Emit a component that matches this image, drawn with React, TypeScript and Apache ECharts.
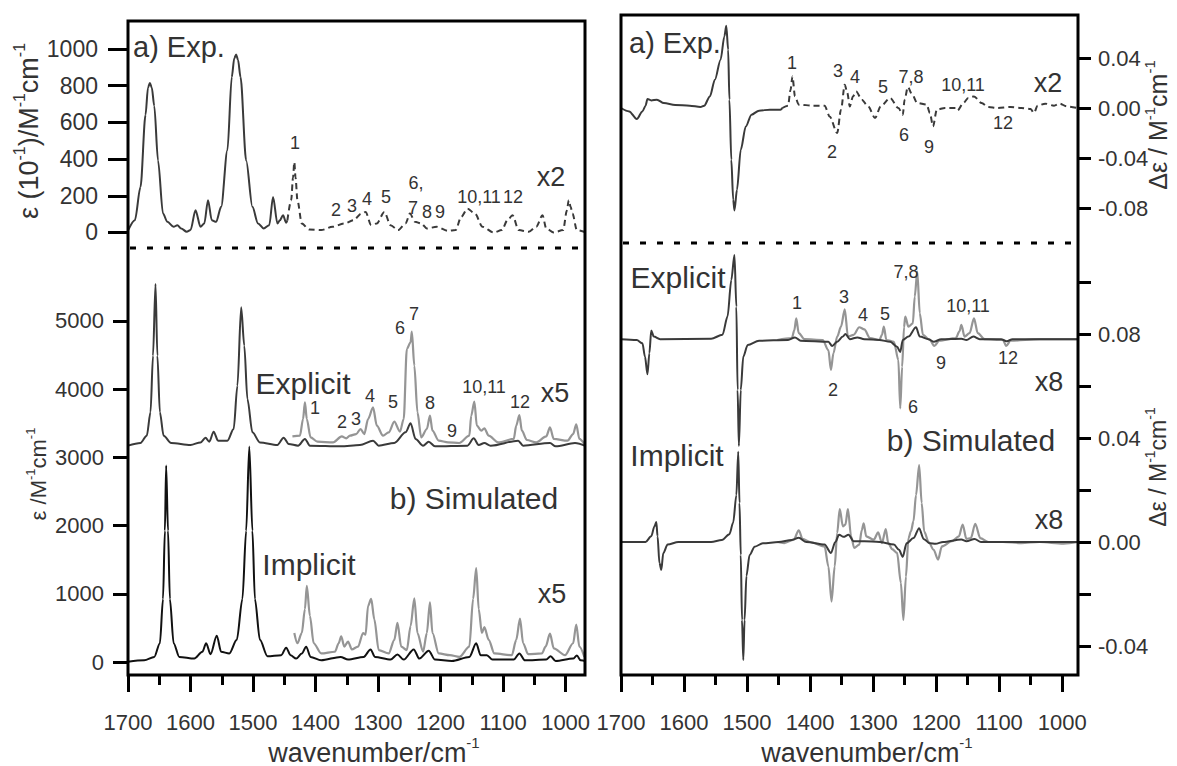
import React, { useEffect, useRef } from "react";
import * as echarts from "echarts";

// ---------- tick values ----------
const xMajorTicks = [1700, 1600, 1500, 1400, 1300, 1200, 1100, 1000];
const xMinorTicks = [1650, 1550, 1450, 1350, 1250, 1150, 1050];
const absExpTicks = [0, 200, 400, 600, 800, 1000];
const absSimTicks = [0, 1000, 2000, 3000, 4000, 5000];
const cdExpTicks = [-0.08, -0.04, 0, 0.04];
const cdSimTicks = [-0.04, -0.02, 0, 0.02, 0.04, 0.06, 0.08, 0.1];
const cdSimLabels = [-0.04, 0, 0.04, 0.08];

// ---------- a) Exp. absorption (left top) ----------
const expAbsSolid = [
  [1700, 10], [1689, 67], [1680, 248], [1672, 640], [1668, 790], [1665, 815], [1662, 790], [1658, 690],
  [1652, 393], [1644, 103], [1637, 58], [1627, 31], [1621, 40], [1615, 22], [1606, 4], [1600, 13],
  [1592, 121], [1584, 31], [1578, 49], [1572, 176], [1566, 67], [1559, 58], [1551, 140], [1541, 448],
  [1534, 847], [1530, 950], [1527, 970], [1524, 940], [1520, 847], [1511, 393], [1501, 140], [1492, 49],
  [1483, 22], [1474, 40], [1468, 194], [1461, 49], [1457, 67], [1452, 94], [1447, 53], [1445, 67],
];
const expAbsX2 = [
  [1445, 67], [1439, 176], [1436, 300], [1434, 384], [1432, 300], [1429, 176], [1422, 49], [1410, 16],
  [1391, 13], [1373, 31], [1354, 49], [1339, 67], [1327, 103], [1320, 112], [1311, 40], [1302, 49],
  [1290, 112], [1280, 40], [1268, 13], [1256, 49], [1249, 103], [1241, 58], [1231, 49], [1222, 22],
  [1206, 31], [1188, 9], [1176, 13], [1167, 85], [1157, 130], [1145, 103], [1133, 31], [1115, 0],
  [1102, 13], [1093, 67], [1085, 94], [1075, 13], [1059, 4], [1047, 31], [1037, 94], [1031, 22],
  [1019, 0], [1004, 13], [998, 120], [995, 176], [992, 140], [989, 103], [982, 13], [967, 0],
];

// ---------- b) Simulated absorption (left bottom) ----------
const explicitAbs = [
  [1700, 3172], [1680, 3211], [1670, 3318], [1664, 3660], [1660, 4491], [1656, 5543], [1653, 4491],
  [1649, 3660], [1643, 3318], [1631, 3211], [1600, 3182], [1584, 3220], [1576, 3289], [1570, 3230],
  [1563, 3377], [1556, 3245], [1541, 3245], [1531, 3416], [1525, 4051], [1519, 5200], [1514, 4638],
  [1509, 3856], [1501, 3367], [1489, 3220], [1461, 3182], [1451, 3289], [1443, 3196], [1428, 3172],
  [1417, 3270], [1409, 3172], [1360, 3162], [1329, 3182], [1308, 3245], [1299, 3172], [1274, 3211],
  [1256, 3367], [1248, 3499], [1240, 3270], [1228, 3172], [1219, 3230], [1209, 3162], [1157, 3172],
  [1147, 3279], [1139, 3182], [1130, 3211], [1120, 3172], [1076, 3245], [1068, 3172], [1025, 3211],
  [1016, 3162], [985, 3211], [967, 3162],
];
const explicitAbsX5 = [
  [1437, 3308], [1425, 3318], [1420, 3562], [1417, 3807], [1414, 3562], [1408, 3294], [1397, 3230],
  [1372, 3220], [1358, 3308], [1351, 3279], [1345, 3318], [1335, 3342], [1328, 3416], [1322, 3342],
  [1316, 3562], [1308, 3734], [1302, 3465], [1292, 3318], [1283, 3367], [1274, 3523], [1265, 3377],
  [1259, 3562], [1254, 4589], [1248, 4687], [1246, 4843], [1242, 4345], [1237, 3660], [1231, 3294],
  [1222, 3416], [1217, 3611], [1213, 3392], [1203, 3245], [1188, 3220], [1170, 3211], [1154, 3318],
  [1151, 3611], [1146, 3817], [1142, 3465], [1135, 3392], [1130, 3426], [1123, 3318], [1108, 3220],
  [1083, 3270], [1079, 3465], [1074, 3621], [1070, 3392], [1062, 3255], [1047, 3220], [1031, 3308],
  [1025, 3440], [1019, 3270], [997, 3245], [988, 3342], [983, 3484], [978, 3270], [970, 3196],
];
const implicitAbs = [
  [1700, 5], [1674, 25], [1658, 75], [1649, 275], [1644, 925], [1641, 1925], [1639, 2880], [1636, 1925],
  [1633, 925], [1627, 275], [1618, 75], [1594, 50], [1581, 150], [1575, 275], [1568, 115], [1558, 385],
  [1551, 150], [1538, 125], [1526, 325], [1517, 925], [1511, 1925], [1506, 3160], [1501, 1925],
  [1497, 925], [1489, 325], [1477, 85], [1455, 100], [1447, 210], [1440, 100], [1431, 50], [1422, 125],
  [1415, 225], [1408, 75], [1391, 25], [1360, 75], [1348, 35], [1323, 75], [1312, 185], [1305, 75],
  [1280, 35], [1269, 110], [1259, 35], [1243, 185], [1234, 50], [1219, 165], [1209, 35], [1182, 15],
  [1154, 75], [1143, 275], [1136, 100], [1126, 100], [1117, 35], [1083, 35], [1074, 125], [1065, 25],
  [1031, 35], [1024, 85], [1016, 15], [988, 50], [982, 95], [976, 25], [967, 10],
];
const implicitAbsX5 = [
  [1434, 425], [1429, 275], [1422, 425], [1417, 775], [1414, 1115], [1409, 675], [1403, 275],
  [1391, 125], [1369, 150], [1363, 275], [1359, 375], [1354, 225], [1348, 300], [1342, 185],
  [1332, 225], [1324, 425], [1320, 400], [1316, 825], [1311, 925], [1306, 625], [1299, 175],
  [1283, 125], [1274, 325], [1269, 575], [1263, 225], [1254, 175], [1248, 525], [1242, 935],
  [1237, 425], [1228, 150], [1222, 425], [1217, 875], [1213, 425], [1203, 125], [1185, 100],
  [1170, 75], [1154, 225], [1148, 925], [1143, 1375], [1139, 775], [1134, 425], [1130, 510],
  [1123, 325], [1114, 125], [1086, 100], [1079, 325], [1073, 635], [1068, 275], [1060, 115],
  [1038, 125], [1032, 225], [1025, 415], [1019, 200], [1001, 100], [988, 275], [983, 550],
  [978, 225], [970, 75],
];

// ---------- a) Exp. VCD (right top) ----------
const expCdSolid = [
  [1700, 0], [1687, -0.0027], [1675, -0.0088], [1666, -0.0027], [1661, 0.0019], [1658, 0.0072],
  [1652, 0.0061], [1643, 0.0067], [1632, 0.004], [1614, 0.0024], [1591, 0.0019], [1574, 0.0008],
  [1568, 0.0019], [1559, 0.0093], [1551, 0.0227], [1542, 0.0387], [1536, 0.0573], [1533, 0.0659],
  [1530, 0.0467], [1528, 0.0067], [1525, -0.0413], [1522, -0.0733], [1520, -0.0819], [1516, -0.0653],
  [1510, -0.0333], [1502, -0.0147], [1493, -0.0053], [1481, -0.0021], [1464, -0.0013], [1447, -0.0013],
  [1444, 0],
];
const expCdX2 = [
  [1444, 0], [1435, 0.0019], [1431, 0.0147], [1428, 0.0253], [1424, 0.0093], [1418, 0.0027],
  [1395, 0.0019], [1377, 0.0019], [1369, -0.0067], [1357, -0.02], [1351, -0.0013], [1345, 0.0187],
  [1341, 0.012], [1337, 0.0013], [1332, 0.0093], [1327, 0.0133], [1318, 0.0067], [1308, 0.0013],
  [1297, -0.008], [1288, 0.0013], [1273, 0.008], [1260, 0], [1253, -0.0053], [1250, 0.0067],
  [1245, 0.0168], [1238, 0.0107], [1230, 0.004], [1215, 0.0027], [1210, -0.004], [1205, -0.0147],
  [1199, -0.0013], [1186, 0], [1169, 0], [1166, -0.0019], [1157, 0.004], [1149, 0.008], [1140, 0.0093],
  [1128, 0.004], [1117, 0.0008], [1103, 0], [1082, 0.0008], [1065, 0], [1050, -0.0008], [1045, -0.004],
  [1039, 0.0019], [1027, 0.0035], [1013, 0.0019], [1004, 0.0035], [993, 0.0013], [975, 0],
];

// ---------- b) Simulated VCD (right bottom) ----------
const explicitCd = [
  [1700, 0.078], [1675, 0.0777], [1666, 0.0764], [1662, 0.0713], [1658, 0.0645], [1655, 0.0726],
  [1652, 0.0813], [1648, 0.079], [1638, 0.078], [1557, 0.0782], [1539, 0.0797], [1531, 0.0867],
  [1525, 0.1008], [1520, 0.1104], [1517, 0.0905], [1515, 0.0585], [1513, 0.0369], [1510, 0.0585],
  [1506, 0.0713], [1499, 0.0758], [1481, 0.0774], [1435, 0.0777], [1424, 0.0787], [1415, 0.0774],
  [1371, 0.077], [1365, 0.0754], [1357, 0.077], [1348, 0.079], [1344, 0.08], [1337, 0.078],
  [1325, 0.0787], [1314, 0.078], [1290, 0.0777], [1273, 0.077], [1262, 0.0751], [1257, 0.0731],
  [1253, 0.0777], [1244, 0.079], [1232, 0.0826], [1226, 0.079], [1212, 0.078], [1204, 0.077],
  [1192, 0.078], [1160, 0.0782], [1152, 0.0777], [1141, 0.079], [1131, 0.078], [1097, 0.078],
  [1088, 0.0772], [1079, 0.078], [975, 0.078],
];
const explicitCdX8 = [
  [1452, 0.0777], [1429, 0.0784], [1425, 0.0815], [1422, 0.086], [1418, 0.0803], [1409, 0.078],
  [1380, 0.0777], [1371, 0.0738], [1367, 0.0662], [1363, 0.0726], [1357, 0.079], [1351, 0.0828],
  [1345, 0.0895], [1340, 0.079], [1331, 0.0797], [1322, 0.0826], [1314, 0.0818], [1305, 0.0784],
  [1290, 0.0777], [1286, 0.0797], [1283, 0.0828], [1279, 0.0777], [1267, 0.077], [1260, 0.07],
  [1257, 0.0514], [1254, 0.0674], [1251, 0.0826], [1249, 0.0867], [1244, 0.0828], [1237, 0.0841],
  [1234, 0.0944], [1230, 0.104], [1226, 0.0879], [1221, 0.0797], [1210, 0.0777], [1203, 0.0754],
  [1195, 0.0774], [1169, 0.0784], [1163, 0.081], [1160, 0.0835], [1155, 0.079], [1147, 0.0803],
  [1140, 0.086], [1134, 0.0803], [1123, 0.078], [1094, 0.0777], [1089, 0.0754], [1082, 0.0774],
  [1036, 0.078], [975, 0.078],
];
const implicitCd = [
  [1700, 0], [1661, 0], [1652, 0.0022], [1647, 0.006], [1644, 0.0077], [1642, 0.0022], [1639, -0.0081],
  [1636, -0.0107], [1633, -0.0043], [1626, -0.001], [1609, 0], [1557, 0], [1540, 0.0008], [1528, 0.003],
  [1522, 0.0075], [1517, 0.018], [1514, 0.0347], [1512, 0.015], [1510, -0.005], [1508, -0.03],
  [1506, -0.0454], [1504, -0.03], [1501, -0.013], [1496, -0.005], [1488, -0.0018], [1475, -0.0005],
  [1450, 0], [1429, 0.0008], [1418, 0.0016], [1406, 0], [1377, -0.001], [1367, -0.0042], [1360, 0],
  [1354, 0.0028], [1347, 0.002], [1339, 0.0028], [1331, 0.0003], [1314, 0.0003], [1290, 0],
  [1267, -0.001], [1259, -0.003], [1253, -0.0057], [1247, -0.0005], [1236, 0.0015], [1227, 0.0053],
  [1220, 0.0012], [1210, -0.0005], [1201, -0.0007], [1189, 0], [1160, 0.001], [1152, 0.0003],
  [1139, 0.0012], [1129, 0], [975, 0],
];
const implicitCdX8 = [
  [1452, 0], [1441, -0.0004], [1426, 0.0009], [1418, 0.0045], [1412, 0.0012], [1400, 0],
  [1377, -0.0017], [1371, -0.0094], [1366, -0.0229], [1361, -0.0094], [1357, 0.0035], [1353, 0.0127],
  [1348, 0.006], [1344, 0.0067], [1340, 0.0127], [1335, 0.0022], [1330, -0.0023], [1322, -0.001],
  [1318, 0.0046], [1315, 0.0072], [1311, 0.0022], [1299, 0.0009], [1292, 0.0037], [1286, -0.0004],
  [1280, 0.005], [1276, -0.0004], [1270, -0.0027], [1262, -0.0042], [1256, -0.0157], [1252, -0.03],
  [1248, -0.0133], [1244, 0.0015], [1240, 0.0041], [1236, 0.008], [1232, 0.018], [1227, 0.0296],
  [1223, 0.015], [1219, 0.004], [1212, 0], [1204, -0.003], [1197, -0.0068], [1191, -0.0017],
  [1175, 0.0003], [1164, 0.0022], [1158, 0.0067], [1152, 0.0012], [1145, 0.0015], [1138, 0.007],
  [1130, 0.0015], [1117, 0], [1094, 0], [1065, -0.0004], [1036, 0], [998, -0.0006], [975, 0],
];

const FONT = '"Liberation Sans", Arial, Helvetica, sans-serif';
const TXT = "#333";
const DARK = "#3a3a3a";
const BLACK = "#111";
const GRAY = "#959595";
const LEFT_MIN = 969;
const RIGHT_MIN = 975;
const X_MAX = 1700;

function txt(text: string, x: number, y: number, size: number, align = "center") {
  return {
    type: "text",
    x,
    y,
    z: 20,
    style: { text, fill: TXT, font: `${size}px ${FONT}`, align, verticalAlign: "middle" },
  };
}

function supText(parts: string[], x: number, y: number, size: number, sup: number, rotate: boolean) {
  const text = parts.map((p, i) => (i % 2 === 0 ? `{n|${p}}` : `{s|${p}}`)).join("");
  return {
    type: "text",
    x,
    y,
    z: 20,
    rotation: rotate ? Math.PI / 2 : 0,
    style: {
      text,
      fill: TXT,
      font: `${size}px ${FONT}`,
      align: "center",
      verticalAlign: "middle",
      rich: {
        n: { fontSize: size, fontFamily: FONT, fill: TXT, lineHeight: size * 1.15, verticalAlign: "bottom" },
        s: { fontSize: sup, fontFamily: FONT, fill: TXT, lineHeight: size * 1.15, verticalAlign: "top" },
      },
    },
  };
}

function line(data: number[][], xi: number, yi: number, color: string, width: number, dashed = false) {
  return {
    type: "line",
    xAxisIndex: xi,
    yAxisIndex: yi,
    data,
    showSymbol: false,
    symbol: "none",
    smooth: 0.3,
    smoothMonotone: "x",
    clip: true,
    lineStyle: { color, width, type: dashed ? [6, 4] : "solid" },
    z: 3,
  };
}

const tickStyle = { color: "#000", width: 3 };
const plain = (v: number) => String(v);

function hiddenX(grid: number, min: number) {
  return { type: "value", gridIndex: grid, min, max: X_MAX, inverse: true, show: false };
}
// tick axis on a strip grid (y 655..695) whose zero line lies on the frame's bottom edge (y = 675)
function tickX(grid: number, min: number, minor: boolean) {
  return {
    type: "value",
    gridIndex: grid,
    min,
    max: X_MAX,
    inverse: true,
    position: "bottom",
    axisLine: { show: true, onZero: true, lineStyle: { color: "rgba(0,0,0,0)", width: 0 } },
    splitLine: { show: false },
    axisTick: {
      show: true,
      inside: false,
      length: minor ? 10 : 17,
      lineStyle: tickStyle,
      customValues: minor ? xMinorTicks : xMajorTicks,
    },
    axisLabel: {
      show: !minor,
      customValues: xMajorTicks,
      margin: 16,
      fontSize: 22,
      fontFamily: FONT,
      color: TXT,
      formatter: plain,
    },
  };
}
function stripY(grid: number) {
  return { type: "value", gridIndex: grid, min: -1, max: 1, show: false };
}

export default function App() {
  const ref = useRef<HTMLDivElement>(null);
  useEffect(() => {
    if (!ref.current) return;
    const chart = echarts.init(ref.current, undefined, { renderer: "svg" });
    const gridBase = { containLabel: false, outerBoundsMode: "none" };
    const option: any = {
      animation: false,
      backgroundColor: "#fff",
      grid: [
        { ...gridBase, left: 128, top: 21, width: 457, height: 227 },
        { ...gridBase, left: 128, top: 248, width: 457, height: 427 },
        { ...gridBase, left: 621, top: 15, width: 457, height: 228 },
        { ...gridBase, left: 621, top: 243, width: 457, height: 432 },
        // strips carrying the wavenumber ticks; zero line at y = 675
        { ...gridBase, left: 128, top: 655, width: 457, height: 40 },
        { ...gridBase, left: 128, top: 655, width: 457, height: 40 },
        { ...gridBase, left: 621, top: 655, width: 457, height: 40 },
        { ...gridBase, left: 621, top: 655, width: 457, height: 40 },
      ],
      xAxis: [
        hiddenX(0, LEFT_MIN),
        hiddenX(1, LEFT_MIN),
        hiddenX(2, RIGHT_MIN),
        hiddenX(3, RIGHT_MIN),
        tickX(4, LEFT_MIN, false),
        tickX(5, LEFT_MIN, true),
        tickX(6, RIGHT_MIN, false),
        tickX(7, RIGHT_MIN, true),
      ],
      yAxis: [
        {
          type: "value", gridIndex: 0, position: "left", min: -84.5, max: 1152.6,
          axisLine: { show: false }, splitLine: { show: false },
          axisTick: { show: true, length: 20, lineStyle: tickStyle, customValues: absExpTicks },
          axisLabel: { customValues: absExpTicks, margin: 30, fontSize: 23, fontFamily: FONT, color: TXT, formatter: plain },
        },
        {
          type: "value", gridIndex: 1, position: "left", min: -190.6, max: 6070,
          axisLine: { show: false }, splitLine: { show: false },
          axisTick: { show: true, length: 15, lineStyle: tickStyle, customValues: absSimTicks },
          axisLabel: { customValues: absSimTicks, margin: 24, fontSize: 22, fontFamily: FONT, color: TXT, formatter: plain },
        },
        {
          type: "value", gridIndex: 2, position: "right", min: -0.108, max: 0.0744,
          axisLine: { show: false }, splitLine: { show: false },
          axisTick: { show: true, length: 13, lineStyle: tickStyle, customValues: cdExpTicks },
          axisLabel: {
            customValues: cdExpTicks, margin: 20, fontSize: 22, fontFamily: FONT, color: TXT,
            formatter: (v: number) => v.toFixed(2),
          },
        },
        {
          type: "value", gridIndex: 3, position: "right", min: -0.05115, max: 0.115,
          axisLine: { show: false }, splitLine: { show: false },
          axisTick: { show: true, length: 13, lineStyle: tickStyle, customValues: cdSimTicks },
          axisLabel: {
            customValues: cdSimLabels, margin: 20, fontSize: 22, fontFamily: FONT, color: TXT,
            formatter: (v: number) => v.toFixed(2),
          },
        },
        stripY(4),
        stripY(5),
        stripY(6),
        stripY(7),
      ],
      series: [
        line(expAbsSolid, 0, 0, DARK, 2),
        line(expAbsX2, 0, 0, DARK, 2, true),
        line(explicitAbsX5, 1, 1, GRAY, 2.2),
        line(explicitAbs, 1, 1, DARK, 2),
        line(implicitAbsX5, 1, 1, GRAY, 2.2),
        line(implicitAbs, 1, 1, BLACK, 2),
        line(expCdSolid, 2, 2, DARK, 2),
        line(expCdX2, 2, 2, DARK, 2, true),
        line(explicitCdX8, 3, 3, GRAY, 2.2),
        line(explicitCd, 3, 3, DARK, 2),
        line(implicitCdX8, 3, 3, GRAY, 2.2),
        line(implicitCd, 3, 3, DARK, 2),
      ],
      graphic: [
        { type: "rect", z: 15, shape: { x: 128, y: 21, width: 457, height: 654 }, style: { fill: "none", stroke: "#000", lineWidth: 3 } },
        { type: "rect", z: 15, shape: { x: 621, y: 15, width: 457, height: 660 }, style: { fill: "none", stroke: "#000", lineWidth: 3 } },
        { type: "line", z: 15, shape: { x1: 130, y1: 248, x2: 585, y2: 248 }, style: { stroke: "#000", lineWidth: 3, lineDash: [6, 11] } },
        { type: "line", z: 15, shape: { x1: 623, y1: 243, x2: 1078, y2: 243 }, style: { stroke: "#000", lineWidth: 3, lineDash: [6, 11] } },

        // axis titles
        supText(["ε (10", "-1", ")/M", "-1", "cm", "-1"], 27, 131, 27, 16, true),
        supText(["ε /M", "-1", "cm", "-1"], 37, 474, 22, 13, true),
        supText(["Δε / M", "-1", "cm", "-1"], 1156, 125, 25, 15, true),
        supText(["Δε / M", "-1", "cm", "-1"], 1156, 467, 23, 14, true),
        supText(["wavenumber/cm", "-1"], 374, 751, 27, 15, false),
        supText(["wavenumber/cm", "-1"], 867, 751, 27, 15, false),

        // left panel labels
        txt("a) Exp.", 133, 47, 29, "left"),
        txt("x2", 551, 177, 27),
        txt("1", 295, 143, 18), txt("2", 336, 210, 18), txt("3", 352, 206, 18), txt("4", 367, 199, 18),
        txt("5", 386, 197, 18), txt("6,", 416, 183, 18), txt("7", 413, 208, 18), txt("8", 427, 212, 18),
        txt("9", 440, 212, 18), txt("10,11", 479, 197, 18), txt("12", 513, 197, 18),
        txt("Explicit", 303, 383, 30),
        txt("x5", 555, 393, 27),
        txt("1", 315, 408, 18), txt("2", 342, 422, 18), txt("3", 356, 419, 18), txt("4", 370, 396, 18),
        txt("5", 393, 402, 18), txt("6", 400, 328, 18), txt("7", 414, 314, 18), txt("8", 430, 403, 18),
        txt("9", 452, 431, 18), txt("10,11", 484, 387, 18), txt("12", 520, 402, 18),
        txt("b) Simulated", 474, 498, 30),
        txt("Implicit", 309, 564, 30),
        txt("x5", 552, 594, 27),

        // right panel labels
        txt("a) Exp.", 629, 43, 29, "left"),
        txt("x2", 1048, 83, 27),
        txt("1", 792, 63, 18), txt("3", 838, 71, 18), txt("4", 855, 77, 18), txt("5", 883, 87, 18),
        txt("7,8", 911, 77, 18), txt("10,11", 963, 85, 18), txt("2", 832, 152, 18), txt("6", 904, 135, 18),
        txt("9", 929, 147, 18), txt("12", 1003, 123, 18),
        txt("Explicit", 678, 277, 30),
        txt("1", 797, 303, 18), txt("3", 844, 297, 18), txt("4", 863, 315, 18), txt("5", 885, 314, 18),
        txt("7,8", 906, 272, 18), txt("10,11", 968, 306, 18), txt("2", 833, 390, 18), txt("6", 913, 407, 18),
        txt("9", 941, 363, 18), txt("12", 1008, 358, 18),
        txt("x8", 1049, 382, 27),
        txt("b) Simulated", 971, 440, 30),
        txt("Implicit", 677, 455, 30),
        txt("x8", 1049, 520, 27),
      ],
    };
    chart.setOption(option);
    return () => chart.dispose();
  }, []);
  return (
    <div
      ref={ref}
      style={{ position: "fixed", left: 0, top: 0, width: 1177, height: 766, background: "#fff" }}
    />
  );
}
